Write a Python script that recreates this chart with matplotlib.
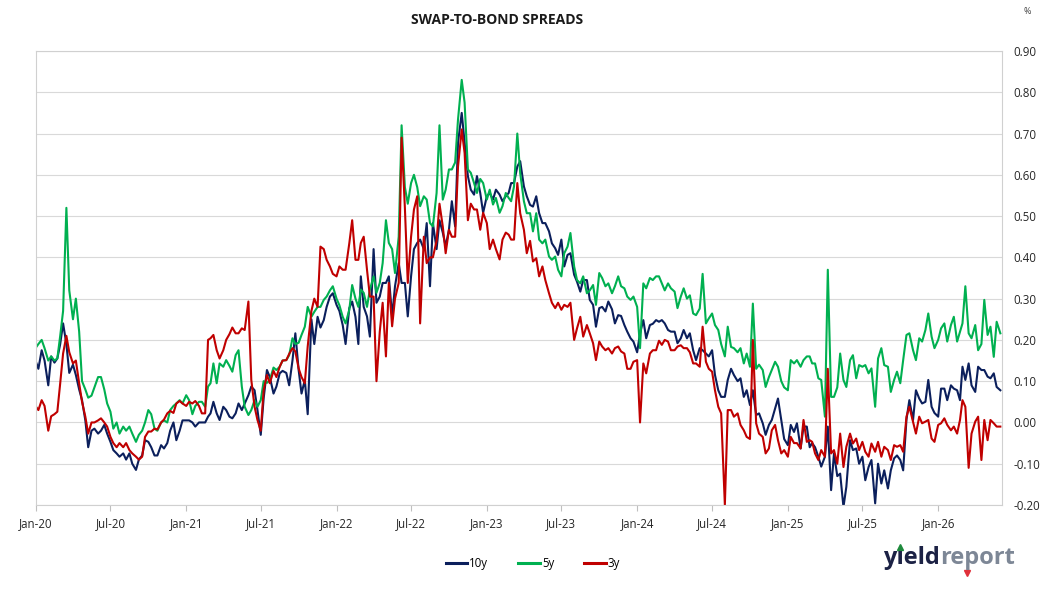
import matplotlib
matplotlib.use('Agg')
import matplotlib.pyplot as plt
import matplotlib.dates as mdates
from matplotlib.lines import Line2D
import numpy as np
import pandas as pd

plt.rcParams['font.family'] = ['Open Sans', 'DejaVu Sans']

title = 'SWAP-TO-BOND SPREADS'
series_names = ['10y', '5y', '3y']
series_colors = ['#0B1F5C', '#00B050', '#C00000']
obs_days = [1, 8, 16, 23]          # four observations per month
first_year = 2020

spread_10y = [
    # 2020
    0.15, 0.13, 0.175, 0.15,  0.09, 0.16, 0.145, 0.155,  0.19, 0.24, 0.19, 0.12,
    0.14, 0.115, 0.08, 0.054,  0.005, -0.06, -0.02, -0.015,  -0.027, -0.02, -0.006, -0.027,
    -0.047, -0.067, -0.075, -0.083,  -0.075, -0.09, -0.075, -0.10,  -0.115, -0.09, -0.08, -0.043,
    -0.047, -0.06, -0.08, -0.08,  -0.055, -0.063, -0.05, -0.02,  0.0, -0.043, -0.02, 0.005,
    # 2021
    0.005, 0.005, 0.0, -0.01,  0.0, 0.0, 0.0, 0.014,  0.022, 0.05, 0.022, 0.006,
    0.038, 0.03, 0.014, 0.01,  0.022, 0.046, 0.03, 0.046,  0.066, 0.087, 0.078, 0.03,
    -0.03, 0.058, 0.127, 0.11,  0.07, 0.087, 0.119, 0.125,  0.12, 0.09, 0.15, 0.216,
    0.127, 0.07, 0.103, 0.02,  0.25, 0.19, 0.256, 0.23,  0.248, 0.28, 0.305, 0.313,
    # 2022
    0.285, 0.27, 0.236, 0.19,  0.277, 0.293, 0.256, 0.19,  0.354, 0.28, 0.257, 0.208,
    0.42, 0.29, 0.305, 0.338,  0.338, 0.354, 0.257, 0.33,  0.386, 0.338, 0.338, 0.257,
    0.354, 0.42, 0.435, 0.443,  0.42, 0.483, 0.33, 0.483,  0.42, 0.49, 0.46, 0.427,
    0.467, 0.536, 0.475, 0.678,  0.75, 0.678, 0.597, 0.564,  0.552, 0.597, 0.556, 0.508,
    # 2023
    0.548, 0.556, 0.54, 0.564,  0.552, 0.536, 0.548, 0.556,  0.58, 0.58, 0.62, 0.633,
    0.572, 0.548, 0.527, 0.523,  0.548, 0.507, 0.483, 0.483,  0.463, 0.434, 0.422, 0.406,
    0.443, 0.378, 0.406, 0.41,  0.358, 0.341, 0.317, 0.345,  0.345, 0.297, 0.285, 0.232,
    0.277, 0.28, 0.269, 0.293,  0.274, 0.24, 0.26, 0.258,  0.236, 0.22, 0.204, 0.196,
    # 2024
    0.17, 0.216, 0.248, 0.204,  0.236, 0.239, 0.248, 0.244,  0.248, 0.24, 0.224, 0.22,
    0.22, 0.192, 0.204, 0.224,  0.204, 0.216, 0.175, 0.151,  0.18, 0.175, 0.167, 0.16,
    0.175, 0.115, 0.078, 0.062,  0.062, 0.103, 0.13, 0.115,  0.10, 0.107, 0.062, 0.078,
    0.042, 0.078, 0.018, 0.022,  -0.002, -0.03, -0.006, 0.006,  0.034, 0.058, 0.006, -0.04,
    # 2025
    -0.055, -0.006, -0.023, -0.002,  -0.063, -0.01, -0.01, -0.06,  -0.05, -0.06, -0.083, -0.107,
    -0.083, -0.01, -0.164, -0.075,  -0.13, -0.124, -0.205, -0.156,  -0.043, -0.067, -0.063, -0.10,
    -0.083, -0.14, -0.108, -0.091,  -0.196, -0.10, -0.148, -0.116,  -0.16, -0.116, -0.087, -0.08,
    -0.091, -0.116, 0.007, 0.054,  0.006, 0.078, 0.058, 0.046,  0.05, 0.103, 0.038, 0.023,
    # 2026
    0.014, 0.082, 0.082, 0.054,  0.09, 0.082, 0.078, 0.054,  0.135, 0.103, 0.143, 0.09,
    0.074, 0.135, 0.127, 0.127,  0.111, 0.107, 0.119, 0.086,  0.078,
]

spread_5y = [
    # 2020
    0.18, 0.19, 0.20, 0.18,  0.15, 0.16, 0.15, 0.155,  0.21, 0.27, 0.52, 0.32,
    0.25, 0.30, 0.22, 0.10,  0.08, 0.06, 0.065, 0.085,  0.11, 0.11, 0.08, 0.046,
    0.026, -0.015, 0.0, -0.027,  -0.01, -0.02, -0.01, -0.027,  -0.047, -0.03, -0.02, 0.0,
    0.03, 0.02, -0.015, -0.02,  0.0, 0.005, 0.0, 0.03,  0.04, 0.046, 0.054, 0.046,
    # 2021
    0.066, 0.054, 0.02, 0.04,  0.05, 0.05, 0.038, 0.087,  0.095, 0.143, 0.095, 0.143,
    0.135, 0.151, 0.137, 0.123,  0.163, 0.175, 0.087, 0.038,  0.018, 0.03, 0.054, 0.038,
    0.054, 0.10, 0.096, 0.103,  0.133, 0.127, 0.135, 0.15,  0.151, 0.163, 0.204, 0.19,
    0.193, 0.212, 0.232, 0.28,  0.256, 0.268, 0.28, 0.28,  0.297, 0.305, 0.32, 0.33,
    # 2022
    0.30, 0.284, 0.256, 0.24,  0.273, 0.333, 0.30, 0.28,  0.322, 0.314, 0.28, 0.322,
    0.354, 0.314, 0.338, 0.386,  0.49, 0.435, 0.42, 0.362,  0.45, 0.72, 0.57, 0.53,
    0.58, 0.60, 0.57, 0.524,  0.548, 0.54, 0.483, 0.475,  0.556, 0.72, 0.54, 0.564,
    0.613, 0.613, 0.63, 0.734,  0.83, 0.775, 0.613, 0.605,  0.58, 0.556, 0.59, 0.58,
    # 2023
    0.54, 0.564, 0.528, 0.544,  0.508, 0.524, 0.556, 0.544,  0.536, 0.572, 0.70, 0.604,
    0.536, 0.507, 0.507, 0.463,  0.507, 0.443, 0.434, 0.443,  0.402, 0.394, 0.402, 0.37,
    0.354, 0.41, 0.426, 0.459,  0.378, 0.345, 0.337, 0.354,  0.313, 0.32, 0.333, 0.285,
    0.362, 0.35, 0.33, 0.337,  0.313, 0.33, 0.354, 0.33,  0.325, 0.305, 0.297, 0.305,
    # 2024
    0.28, 0.18, 0.337, 0.325,  0.35, 0.345, 0.354, 0.354,  0.337, 0.32, 0.337, 0.325,
    0.317, 0.277, 0.305, 0.325,  0.30, 0.308, 0.264, 0.26,  0.276, 0.36, 0.24, 0.252,
    0.264, 0.236, 0.224, 0.19,  0.16, 0.232, 0.183, 0.18,  0.17, 0.18, 0.143, 0.167,
    0.135, 0.288, 0.13, 0.14,  0.127, 0.086, 0.11, 0.127,  0.147, 0.135, 0.10, 0.085,
    # 2025
    0.078, 0.151, 0.143, 0.151,  0.135, 0.151, 0.16, 0.16,  0.143, 0.143, 0.107, 0.103,
    0.014, 0.37, 0.062, 0.062,  0.085, 0.167, 0.103, 0.086,  0.151, 0.163, 0.107, 0.139,
    0.135, 0.139, 0.119, 0.131,  0.038, 0.155, 0.18, 0.139,  0.135, 0.074, 0.103, 0.123,
    0.095, 0.151, 0.212, 0.216,  0.175, 0.151, 0.204, 0.196,  0.224, 0.264, 0.208, 0.18,
    # 2026
    0.20, 0.228, 0.24, 0.196,  0.236, 0.256, 0.196, 0.22,  0.24, 0.33, 0.216, 0.204,
    0.236, 0.175, 0.19, 0.297,  0.212, 0.232, 0.159, 0.244,  0.216,
]

spread_3y = [
    # 2020
    0.04, 0.03, 0.054, 0.04,  -0.02, 0.015, 0.02, 0.026,  0.095, 0.167, 0.21, 0.17,
    0.143, 0.15, 0.095, 0.05,  0.014, -0.027, 0.0, 0.0,  0.005, 0.01, 0.0, -0.01,
    -0.035, -0.05, -0.06, -0.05,  -0.06, -0.05, -0.067, -0.075,  -0.083, -0.09, -0.083, -0.035,
    -0.022, -0.022, -0.015, -0.017,  0.0, 0.007, 0.022, 0.028,  0.023, 0.046, 0.052, 0.046,
    # 2021
    0.04, 0.05, 0.046, 0.052,  0.04, 0.022, 0.022, 0.20,  0.204, 0.212, 0.175, 0.155,
    0.175, 0.20, 0.214, 0.23,  0.216, 0.216, 0.228, 0.224,  0.293, 0.103, 0.038, 0.006,
    -0.02, 0.078, 0.115, 0.095,  0.125, 0.11, 0.135, 0.15,  0.151, 0.166, 0.18, 0.172,
    0.131, 0.11, 0.095, 0.184,  0.27, 0.30, 0.28, 0.426,  0.42, 0.394, 0.378, 0.36,
    # 2022
    0.354, 0.378, 0.37, 0.37,  0.434, 0.49, 0.394, 0.394,  0.435, 0.45, 0.37, 0.305,
    0.305, 0.10, 0.22, 0.29,  0.16, 0.338, 0.233, 0.30,  0.338, 0.69, 0.52, 0.338,
    0.45, 0.516, 0.548, 0.24,  0.45, 0.386, 0.40, 0.40,  0.44, 0.53, 0.475, 0.41,
    0.467, 0.45, 0.45, 0.62,  0.71, 0.653, 0.49, 0.53,  0.516, 0.516, 0.467, 0.508,
    # 2023
    0.483, 0.42, 0.443, 0.42,  0.395, 0.443, 0.46, 0.455,  0.443, 0.443, 0.58, 0.507,
    0.467, 0.41, 0.44, 0.39,  0.398, 0.354, 0.378, 0.345,  0.313, 0.29, 0.277, 0.29,
    0.273, 0.285, 0.28, 0.29,  0.20, 0.228, 0.256, 0.208,  0.236, 0.216, 0.192, 0.151,
    0.196, 0.184, 0.175, 0.18,  0.167, 0.18, 0.184, 0.172,  0.167, 0.13, 0.13, 0.147,
    # 2024
    0.151, 0.0, 0.143, 0.119,  0.167, 0.175, 0.175, 0.198,  0.188, 0.20, 0.196, 0.175,
    0.175, 0.184, 0.187, 0.18,  0.18, 0.17, 0.143, 0.143,  0.135, 0.232, 0.147, 0.13,
    0.123, 0.078, 0.038, 0.022,  -0.20, 0.03, 0.03, 0.014,  0.022, -0.006, -0.019, -0.035,
    -0.04, 0.20, -0.002, -0.027,  -0.035, -0.075, -0.063, -0.019,  -0.006, -0.043, -0.075, -0.067,
    # 2025
    -0.083, -0.035, -0.05, -0.05,  -0.063, 0.006, -0.047, -0.043,  -0.047, -0.075, -0.091, -0.067,
    -0.083, 0.13, -0.075, -0.067,  -0.10, -0.027, -0.108, -0.059,  -0.027, -0.051, -0.039, -0.067,
    -0.047, -0.071, -0.083, -0.051,  -0.071, -0.047, -0.083, -0.059,  -0.067, -0.091, -0.055, -0.059,
    -0.055, -0.071, 0.014, 0.038,  0.002, -0.027, 0.014, -0.002,  0.002, 0.006, -0.039, -0.047,
    # 2026
    -0.006, -0.002, 0.01, -0.006,  -0.019, -0.01, -0.027, 0.006,  0.054, 0.038, -0.11, -0.027,
    0.002, 0.014, -0.091, 0.006,  -0.043, 0.006, -0.002, -0.01,  -0.01,
]

n_obs = len(spread_10y)
dates = [pd.Timestamp(first_year + (k // 4) // 12, (k // 4) % 12 + 1, obs_days[k % 4])
         for k in range(n_obs)]

W, H = 1053, 596
fig = plt.figure(figsize=(W / 100, H / 100), dpi=100)
ax = fig.add_axes([35.5 / W, 1 - 505 / H, (1002 - 35.5) / W, (505 - 51) / H])

for name, col, vals in zip(series_names, series_colors, [spread_10y, spread_5y, spread_3y]):
    ax.plot(dates[:len(vals)], vals, color=col, lw=1.5, label=name, solid_joinstyle='round')

ax.set_ylim(-0.2, 0.9)
yt = np.round(np.arange(-0.2, 0.901, 0.1), 2)
ax.set_yticks(yt)
ax.set_yticklabels([f'{v:.2f}' for v in yt])
ax.yaxis.tick_right()
ax.tick_params(axis='y', length=0, pad=8, labelsize=8.3, colors='#262626')
ax.grid(axis='y', color='#D9D9D9', lw=0.8)
ax.set_axisbelow(True)

ax.set_xlim(pd.Timestamp('2020-01-01'), pd.Timestamp('2026-06-05'))
ax.xaxis.set_major_locator(mdates.MonthLocator(bymonth=[1, 7]))
ax.xaxis.set_major_formatter(mdates.DateFormatter('%b-%y'))
ax.tick_params(axis='x', length=4, width=0.8, color='#BFBFBF', pad=5, labelsize=8.3,
               labelcolor='#262626')
for s in ax.spines.values():
    s.set_color('#D0D0D0')
    s.set_linewidth(0.8)

fig.text(497 / W, 1 - 20 / H, title, ha='center', va='center', fontsize=10,
         fontweight='bold', color='#1A1A1A')
fig.text(1027 / W, 1 - 11 / H, '%', ha='center', va='center', fontsize=6.5, color='#404040')

handles = [Line2D([0], [0], color=c, lw=2.2) for c in series_colors]
fig.legend(handles, series_names, loc='center', bbox_to_anchor=(533 / W, 1 - 564 / H),
           ncol=3, frameon=False, fontsize=8.3, handlelength=1.85, handletextpad=0.2,
           columnspacing=2.6)

# yieldreport logo
fig.canvas.draw()
r = fig.canvas.get_renderer()
fs = 17
x0 = 883 / W
yb = 1 - 564 / H
kw = dict(fontsize=fs, fontweight='bold', va='baseline', ha='left')
t1 = fig.text(x0, yb, 'y\u0131eld', color='#1C2245', **kw)
bb1 = t1.get_window_extent(r)
t2 = fig.text(bb1.x1 / W, yb, 'report', color='#7D8796', **kw)
bb2 = t2.get_window_extent(r)
tmp = fig.text(x0, yb, 'y', **kw); wy = tmp.get_window_extent(r).x1; tmp.remove()
tmp = fig.text(x0, yb, 'y\u0131', **kw); wyi = tmp.get_window_extent(r).x1; tmp.remove()
tmp = fig.text(bb1.x1 / W, yb, 're', **kw); wre = tmp.get_window_extent(r).x1; tmp.remove()
xi = (wy + wyi) / 2 / W
fig.add_artist(Line2D([xi], [1 - 547 / H], marker='^', color='#1E8A3C', markersize=5,
                      transform=fig.transFigure))
fig.add_artist(Line2D([(wre + 3) / W], [1 - 573 / H], marker='v', color='#E0303A',
                      markersize=4.5, transform=fig.transFigure))

fig.savefig('out.png', dpi=100)
